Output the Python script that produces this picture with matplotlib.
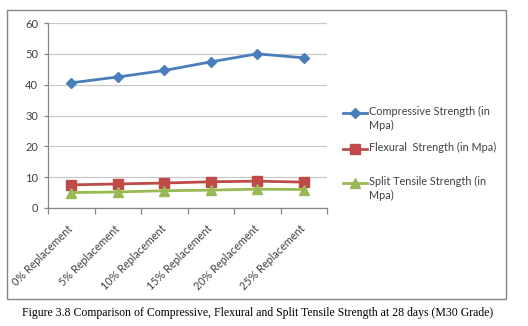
import matplotlib.pyplot as plt
from matplotlib.lines import Line2D
from matplotlib.patches import Rectangle

# categories (replacement level) and strengths at 28 days, in MPa
categories = ['0% Replacement', '5% Replacement', '10% Replacement',
              '15% Replacement', '20% Replacement', '25% Replacement']
compressive = [40.6, 42.5, 44.6, 47.4, 50.0, 48.7]
flexural = [7.5, 7.8, 8.1, 8.5, 8.7, 8.4]
split_tensile = [5.0, 5.2, 5.6, 5.8, 6.1, 6.0]
yticks = [0, 10, 20, 30, 40, 50, 60]

plt.rcParams['font.family'] = ['Lato', 'DejaVu Sans']

W, H = 528, 326
fig = plt.figure(figsize=(W / 100, H / 100), dpi=100)
ax = fig.add_axes([48 / W, 118 / H, 279 / W, 185 / H])

series = [
    (compressive, '#4A7EBB', 'D', 5, 'Compressive Strength (in\nMpa)'),
    (flexural, '#BE4B48', 's', 6.5, 'Flexural  Strength (in Mpa)'),
    (split_tensile, '#98B954', '^', 7, 'Split Tensile Strength (in\nMpa)'),
]

x = [i + 0.5 for i in range(len(categories))]
for vals, col, mk, ms, lab in series:
    ax.plot(x, vals, color=col, lw=2, marker=mk, ms=ms)

ax.set_xlim(0, len(categories))
ax.set_ylim(0, 60)
ax.set_yticks(yticks)
ax.yaxis.grid(True, color='#C8C8C8', lw=0.9)
ax.set_axisbelow(True)

# category boundaries carry the tick marks, labels sit under each point
ax.set_xticks(range(len(categories) + 1))
ax.set_xticklabels([])
ax.tick_params(axis='x', length=4, color='#868686', width=0.9)
ax.tick_params(axis='y', length=3, color='#868686', width=0.9,
               labelsize=8, labelcolor='#404040', pad=4)
for xi, name in zip(x, categories):
    ax.text(xi + 0.08, -5, name, rotation=45, ha='right', va='top',
            fontsize=7.8, color='#404040', transform=ax.transData)

for side in ['top', 'right']:
    ax.spines[side].set_visible(False)
for side in ['left', 'bottom']:
    ax.spines[side].set_color('#868686')
    ax.spines[side].set_linewidth(0.9)

# legend: handle lines up with the first line of each label
for (vals, col, mk, ms, lab), y in zip(series, [113, 149, 183]):
    fy = 1 - y / H
    fig.add_artist(Line2D([343 / W, 367 / W], [fy, fy], color=col, lw=2,
                          transform=fig.transFigure))
    fig.add_artist(Line2D([355 / W], [fy], color=col, marker=mk, ms=ms,
                          transform=fig.transFigure))
    fig.text(369 / W, 1 - (y - 7) / H, lab, ha='left', va='top',
             fontsize=7.8, color='#404040', linespacing=1.35)

# chart frame
fig.patches.append(Rectangle((7 / W, 1 - 299 / H), 499 / W, 289 / H,
                             transform=fig.transFigure, fill=False,
                             edgecolor='#868686', lw=1))

fig.text(258 / W, 1 - 313 / H,
         'Figure 3.8 Comparison of Compressive, Flexural and Split Tensile '
         'Strength at 28 days (M30 Grade)',
         ha='center', va='center', fontsize=8.5, family='Liberation Serif')

fig.savefig('out.png', dpi=100)
